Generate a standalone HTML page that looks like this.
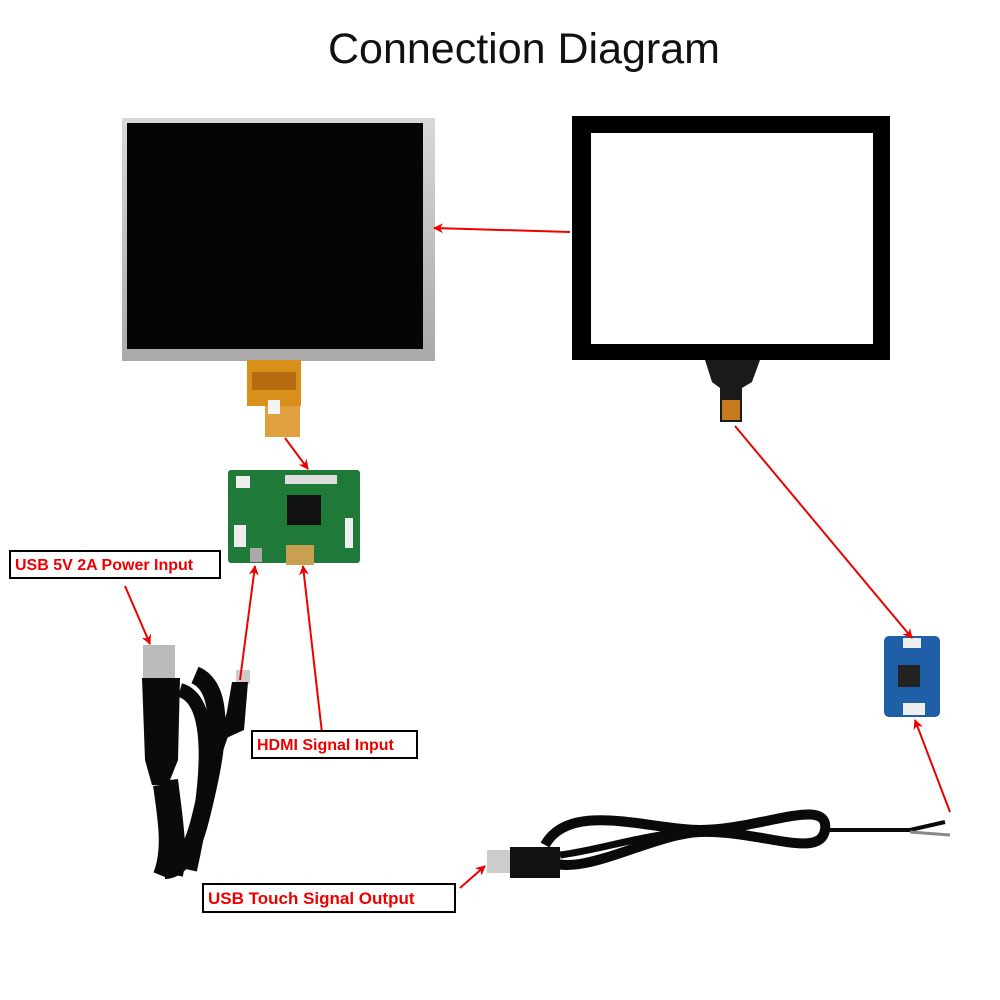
<!DOCTYPE html>
<html><head><meta charset="utf-8"><style>
html,body{margin:0;padding:0;background:#fff;}
svg{display:block}
text{font-family:"Liberation Sans","DejaVu Sans",sans-serif}
</style></head><body>
<svg width="1000" height="1000" viewBox="0 0 1000 1000" xmlns="http://www.w3.org/2000/svg">
<defs>
<marker id="ah" markerWidth="10" markerHeight="10" refX="9" refY="5" orient="auto" markerUnits="userSpaceOnUse">
<path d="M0,0 L10,5 L0,10 L3,5 Z" fill="#e00"/></marker>
<linearGradient id="sil" x1="0" x2="0" y1="0" y2="1"><stop offset="0" stop-color="#d8d8d8"/><stop offset="1" stop-color="#a9a9a9"/></linearGradient>
</defs>
<text x="524" y="63" font-size="43" text-anchor="middle" fill="#111">Connection Diagram</text>

<!-- LCD -->
<rect x="122" y="118" width="313" height="243" fill="url(#sil)"/>
<rect x="127" y="123" width="296" height="226" fill="#050505"/>
<rect x="247" y="360" width="54" height="46" fill="#d8901a"/>
<rect x="252" y="372" width="44" height="18" fill="#b86a10"/>
<rect x="265" y="406" width="35" height="31" fill="#e0a040"/>
<rect x="268" y="400" width="12" height="14" fill="#f4f4f4"/>

<!-- touch panel -->
<rect x="572" y="116" width="318" height="244" fill="#000"/>
<rect x="591" y="133" width="282" height="211" fill="#fff"/>
<path d="M705,360 L760,360 L752,382 L742,388 L742,422 L720,422 L720,388 L712,382 Z" fill="#1a1a1a"/>
<rect x="722" y="400" width="18" height="20" fill="#c87a20"/>

<!-- HDMI board -->
<rect x="228" y="470" width="132" height="93" rx="3" fill="#1f7a3a"/>
<rect x="285" y="475" width="52" height="9" fill="#ddd"/>
<rect x="287" y="495" width="34" height="30" fill="#111"/>
<rect x="234" y="525" width="12" height="22" fill="#eee"/>
<rect x="236" y="476" width="14" height="12" fill="#eee"/>
<rect x="345" y="518" width="8" height="30" fill="#eee"/>
<rect x="286" y="545" width="28" height="20" fill="#c9a050"/>
<rect x="250" y="548" width="12" height="14" fill="#aaa"/>

<!-- touch board -->
<rect x="884" y="636" width="56" height="81" rx="5" fill="#1e5fa8"/>
<rect x="903" y="638" width="18" height="10" fill="#eee"/>
<rect x="898" y="665" width="22" height="22" fill="#222"/>
<rect x="903" y="703" width="22" height="12" fill="#eee"/>

<!-- left cable -->
<path d="M195,675 C230,690 215,760 200,820 C190,860 175,870 165,870" stroke="#0a0a0a" stroke-width="18" fill="none"/>
<path d="M180,690 C215,700 210,780 190,870" stroke="#0a0a0a" stroke-width="14" fill="none"/>
<path d="M170,780 C175,820 180,850 175,875" stroke="#0a0a0a" stroke-width="16" fill="none"/>
<path d="M240,690 C225,730 215,760 205,790" stroke="#0a0a0a" stroke-width="9" fill="none"/>
<rect x="143" y="645" width="32" height="35" fill="#bbb"/>
<path d="M142,678 L180,678 L178,760 L168,785 L152,785 L145,760 Z" fill="#0a0a0a"/>
<path d="M160,785 C165,820 170,850 160,875" stroke="#0a0a0a" stroke-width="14" fill="none"/>
<rect x="236" y="670" width="14" height="14" fill="#ccc"/>
<path d="M232,682 L248,682 L244,730 L222,740 Z" fill="#0a0a0a"/>

<!-- right cable -->
<path d="M545,845 C570,800 650,830 700,830 C760,830 830,795 825,830 C820,860 760,830 700,832 C650,834 580,880 545,860" stroke="#0a0a0a" stroke-width="10" fill="none"/>
<path d="M560,855 C600,850 640,835 700,830" stroke="#0a0a0a" stroke-width="7" fill="none"/>
<path d="M825,830 L910,830 L945,822" stroke="#0a0a0a" stroke-width="4" fill="none"/>
<path d="M910,832 L950,835" stroke="#888" stroke-width="3" fill="none"/>
<rect x="487" y="850" width="25" height="23" fill="#ccc"/>
<rect x="510" y="847" width="50" height="31" fill="#111"/>

<!-- arrows -->
<g stroke="#e00" stroke-width="2" fill="none" marker-end="url(#ah)">
<line x1="570" y1="232" x2="434" y2="228"/>
<line x1="285" y1="438" x2="308" y2="469"/>
<line x1="735" y1="426" x2="912" y2="638"/>
<line x1="950" y1="812" x2="915" y2="720"/>
<line x1="125" y1="586" x2="150" y2="644"/>
<line x1="240" y1="680" x2="255" y2="566"/>
<line x1="322" y1="733" x2="303" y2="566"/>
<line x1="460" y1="888" x2="485" y2="866"/>
</g>

<!-- labels -->
<g font-weight="bold" font-size="16" fill="#e00">
<rect x="10" y="551" width="210" height="27" fill="#fff" stroke="#000" stroke-width="2"/>
<text x="15" y="570">USB 5V 2A Power Input</text>
<rect x="252" y="731" width="165" height="27" fill="#fff" stroke="#000" stroke-width="2"/>
<text x="257" y="750">HDMI Signal Input</text>
<rect x="203" y="884" width="252" height="28" fill="#fff" stroke="#000" stroke-width="2"/>
<text x="208" y="904" font-size="17">USB Touch Signal Output</text>
</g>
</svg>
</body></html>
